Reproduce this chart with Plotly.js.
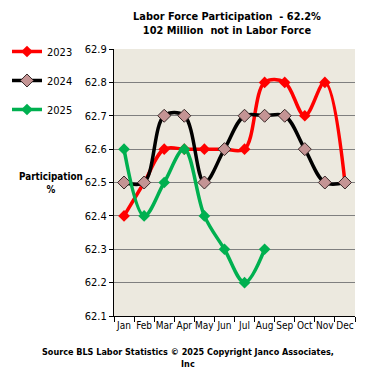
<!DOCTYPE html>
<html><head><meta charset="utf-8">
<script src="https://cdn.plot.ly/plotly-3.0.1.min.js"></script>
<style>body{margin:0;padding:0;background:#fff}#chart{width:377px;height:370px}</style>
</head><body><div id="chart"></div>
<script>
const months = ["Jan","Feb","Mar","Apr","May","Jun","Jul","Aug","Sep","Oct","Nov","Dec"];
const y2023 = [62.4,62.5,62.6,62.6,62.6,62.6,62.6,62.8,62.8,62.7,62.8,62.5];
const y2024 = [62.5,62.5,62.7,62.7,62.5,62.6,62.7,62.7,62.7,62.6,62.5,62.5];
const y2025 = [62.6,62.4,62.5,62.6,62.4,62.3,62.2,62.3];
const seriesNames = ["2023","2024","2025"];
const F = "'DejaVu Sans Condensed', 'Liberation Sans', sans-serif";

const traces = [
  {x: months, y: y2023, name: seriesNames[0], legendgroup:"a", type:"scatter", mode:"lines+markers",
   line:{color:"#FF0000", width:3.5, shape:"spline", smoothing:1},
   marker:{symbol:"diamond", size:9, color:"#FF0000", line:{color:"#FF0000", width:0}}},
  {x: months, y: y2024, name: seriesNames[1], legendgroup:"b", type:"scatter", mode:"lines+markers",
   line:{color:"#000000", width:3.5, shape:"spline", smoothing:1},
   marker:{symbol:"diamond", size:10, color:"#C49494", line:{color:"#3a2a2a", width:1}}},
  {x: months.slice(0, y2025.length), y: y2025, name: seriesNames[2], legendgroup:"c", type:"scatter", mode:"lines+markers",
   line:{color:"#00B050", width:3.5, shape:"spline", smoothing:1},
   marker:{symbol:"diamond", size:9, color:"#00B050", line:{color:"#00B050", width:0}}}
];

const layout = {
  width:377, height:370,
  margin:{l:114, r:22, t:49, b:54, autoexpand:false},
  paper_bgcolor:"#FFFFFF", plot_bgcolor:"#ECE9DF",
  font:{family:F, size:11, color:"#000"},
  title:{text:"<b>Labor Force Participation  - 62.2%</b><br><b>102 Million  not in Labor Force</b>",
         font:{family:F, size:10.9, color:"#000"}, x:0.602, xanchor:"center", y:0.947, yanchor:"top"},
  showlegend:true,
  legend:{x:-0.444, xanchor:"left", y:1.045, yanchor:"top", traceorder:"grouped", tracegroupgap:10,
          font:{family:F, size:11, color:"#000"}, bgcolor:"rgba(0,0,0,0)", itemwidth:30},
  xaxis:{type:"category", range:[-0.5,11.5], showline:true, linecolor:"#000", linewidth:1,
         ticks:"outside", tickson:"boundaries", ticklen:5, tickcolor:"#000", tickangle:0,
         showgrid:false, tickfont:{family:F, size:10}, fixedrange:true, automargin:false},
  yaxis:{range:[62.1,62.9], dtick:0.1, tick0:62.1, tickformat:".1f", showline:true, linecolor:"#000", linewidth:1,
         ticks:"outside", ticklen:4, tickcolor:"#000", gridcolor:"#7F7F7F", gridwidth:1,
         tickfont:{family:F, size:11}, zeroline:false, fixedrange:true, automargin:false},
  annotations:[
    {text:"<b>Participation</b><br><b>%</b>", xref:"paper", yref:"paper", x:-0.261, y:0.5, xanchor:"center", yanchor:"middle",
     showarrow:false, font:{family:F, size:9.8}},
    {text:"<b>Source BLS Labor Statistics © 2025 Copyright Janco Associates,</b><br><b>Inc</b>", xref:"paper", yref:"paper",
     x:0.307, y:-0.11, xanchor:"center", yanchor:"top", showarrow:false, font:{family:F, size:9}}
  ]
};
Plotly.newPlot("chart", traces, layout, {displayModeBar:false, staticPlot:true});
</script></body></html>
